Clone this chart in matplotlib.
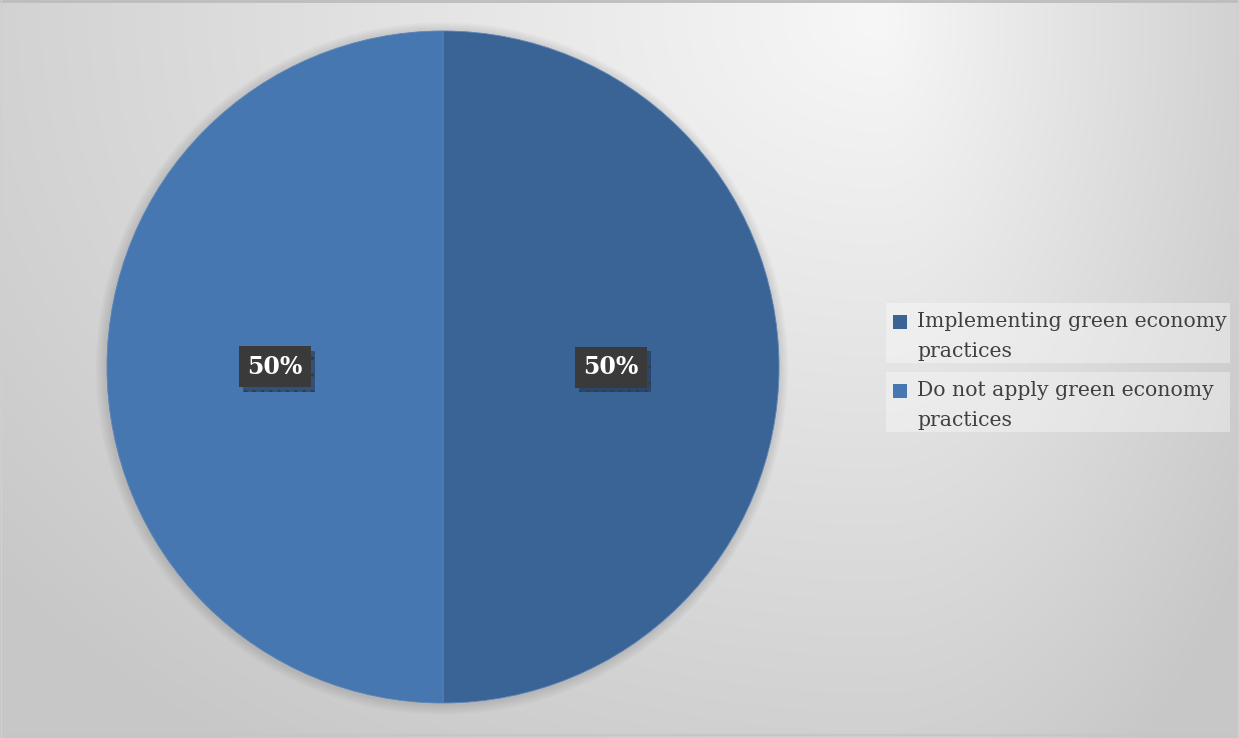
import matplotlib
matplotlib.use("Agg")
import matplotlib.pyplot as plt
import matplotlib.patches as mpatches
import matplotlib.patheffects as pe
import numpy as np

categories = ["Implementing green economy\npractices",
              "Do not apply green economy\npractices"]
shares = [50, 50]
colors = ["#3b6496", "#4777b0"]

W, H = 1239, 738
plt.rcParams["hatch.color"] = "#505050"
plt.rcParams["hatch.linewidth"] = 1.2
fig = plt.figure(figsize=(W / 100, H / 100), dpi=100)

# soft grey backdrop, brightest near the upper right
bg = fig.add_axes([0, 0, 1, 1], zorder=-10)
yy, xx = np.mgrid[0:H, 0:W]
sx = np.where(xx > 880, 400.0, 1000.0)
d = np.sqrt(((xx - 880) / sx) ** 2 + ((yy - 20) / 780.0) ** 2)
shade = 247 - 48 * np.clip(d, 0, 1.15) / 1.15
img = np.dstack([shade, shade, shade]) / 255.0
bg.imshow(img, extent=[0, W, H, 0], aspect="auto", interpolation="bilinear")
bg.set_xlim(0, W)
bg.set_ylim(H, 0)
bg.axis("off")
# thin frame lines
bg.plot([0, W], [1, 1], color="#bdbdbd", lw=2)
bg.plot([0, W], [H - 3, H - 3], color="#c6c6c6", lw=1.5)
bg.plot([1, 1], [0, H], color="#d0d0d0", lw=1)
bg.plot([W - 1, W - 1], [0, H], color="#d0d0d0", lw=1)

ax = fig.add_axes([107 / W, 35 / H, 672 / W, 672 / H])

# faint shadow around the pie
for k in range(6):
    r = 1.0 + 0.005 * (k + 1)
    ax.add_patch(mpatches.Circle((-0.003, -0.004), r, color="black",
                                 alpha=0.018, lw=0, zorder=0, clip_on=False))

wedges, texts, autotexts = ax.pie(
    shares, colors=colors, startangle=90, counterclock=False,
    radius=1.0, autopct="%1.0f%%", pctdistance=0.5,
    wedgeprops=dict(edgecolor="#5a85b8", linewidth=0.6),
    textprops=dict(color="white", fontsize=17, fontweight="bold",
                   family="DejaVu Serif"),
)
for w in wedges:
    w.set_zorder(2)
    w.set_clip_on(False)

for t in autotexts:
    t.set_zorder(4)
    t.set_bbox(dict(boxstyle="square,pad=0.36", facecolor="#3a3a3a",
                    edgecolor="#3a3a3a", lw=0, hatch=".."))
    t.get_bbox_patch().set_path_effects([
        pe.SimplePatchShadow(offset=(3, -3), shadow_rgbFace="#14243a", alpha=0.45),
        pe.Normal(),
    ])

ax.set_xlim(-1, 1)
ax.set_ylim(-1, 1)
ax.set_position([107 / W, 35 / H, 672 / W, 672 / H])
ax.axis("off")

# legend drawn as shaded entry blocks on the right
entry_tops = [303, 372]
for i, (label, col) in enumerate(zip(categories, colors)):
    top = entry_tops[i]
    bg.add_patch(mpatches.Rectangle((886, top), 344, 60, facecolor="white",
                                    alpha=0.35, lw=0, zorder=1))
    bg.add_patch(mpatches.Rectangle((893, top + 12), 14, 14, facecolor=col,
                                    lw=0, zorder=2))
    bg.text(917, top + 9, label, ha="left", va="top", fontsize=14.7,
            family="DejaVu Serif", color="#404040", linespacing=1.72, zorder=3)

fig.savefig("out.png", dpi=100)
